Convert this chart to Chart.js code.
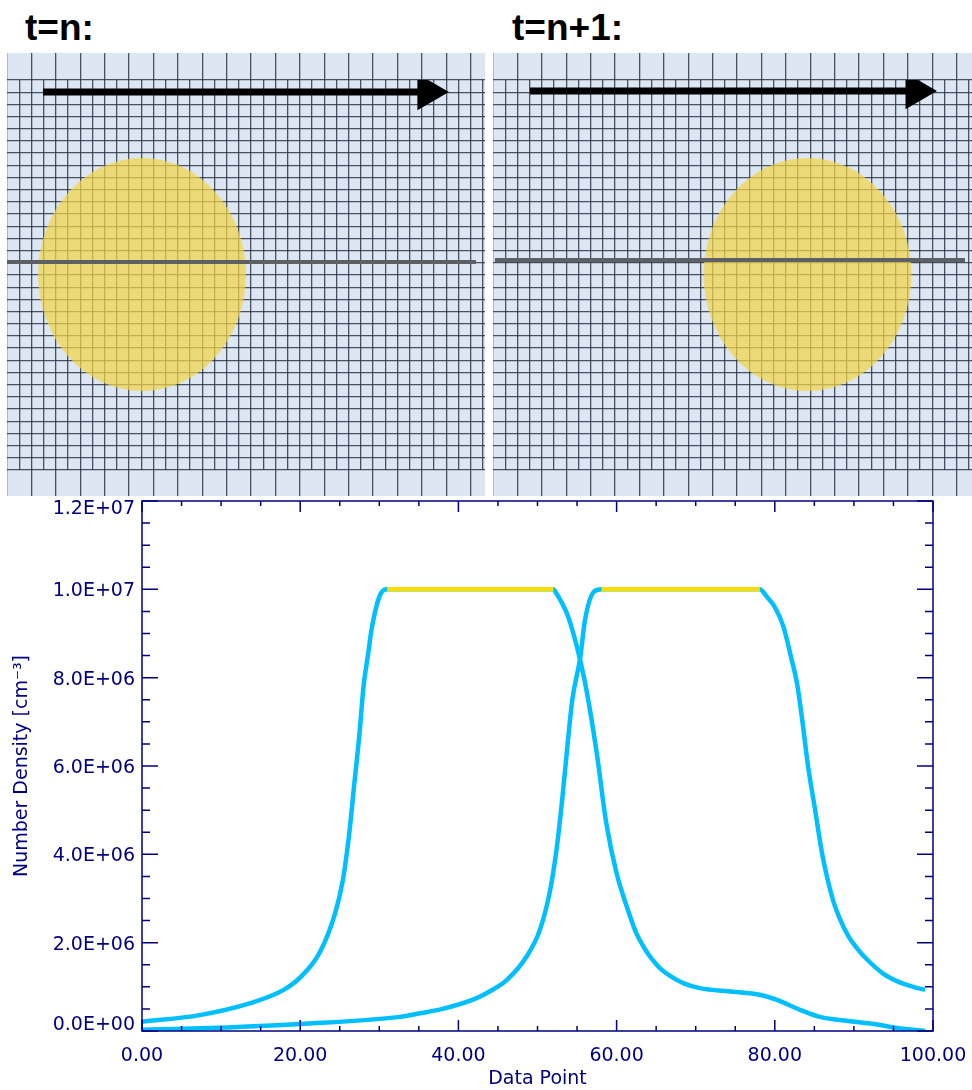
<!DOCTYPE html>
<html>
<head>
<meta charset="utf-8">
<script src="https://cdn.jsdelivr.net/npm/chart.js@4.4.1/dist/chart.umd.min.js"></script>
<style>
    body { margin: 0; background: #fff; width: 972px; height: 1090px; position: relative; overflow: hidden; }
    canvas { position: absolute; }
    .rotulo { position: absolute; top: 9px; font: bold 37px 'Liberation Sans', Arial, sans-serif; line-height: 37px; color: #000; }
    .painel { background: #dce7f3; }
</style>
</head>
<body>
<div class="rotulo" id="rotulo-0" style="left:25px"></div>
<div class="rotulo" id="rotulo-1" style="left:512px"></div>
<canvas id="painel-0" class="painel" width="478" height="443" style="left:7px;top:53px"></canvas>
<canvas id="painel-1" class="painel" width="479" height="443" style="left:493px;top:53px"></canvas>
<canvas id="grafico-densidade" width="972" height="604" style="left:0;top:486px"></canvas>

<script>
// --- dados dos paineis (unidades = celulas da grade) ---
const titulosPaineis = ['t=n:', 't=n+1:'];
const manchaX = [11.07, 25.78];      // centro da nuvem amarela
const manchaY = [16.04, 16.04];
const manchaRx = [8.52, 8.52];
const manchaRy = [9.56, 9.56];
const corteY = [17.07, 17.23];       // linha cinza de corte
const corteX0 = [0, 0.16];
const corteX1 = [38.44, 38.69];
const setaY = [31.02, 31.1];
const setaX0 = [2.95, 3.03];
const setaX1 = [34.5, 34.67];        // centro da ponta da seta

// --- dados do grafico (x = ponto, y em unidades de 1E6 cm^-3) ---
const curvaAX = [0, 7.3, 13.7, 17.9, 20.1, 22.5, 24.4, 25.4, 26.2, 26.8, 27.5, 28.0, 28.6, 29.0, 30.0, 30.9,
    52.0, 52.2, 53.9, 55.0, 55.4, 56.2, 57.5, 58.7, 60.0, 61.3, 62.5, 63.5, 64.5, 65.5, 67.0, 68.5, 70.5, 74.7, 78.1,
    80.2, 83.2, 85.7, 89.5, 92.5, 95.5, 99];
const curvaAY = [0.21, 0.36, 0.63, 0.93, 1.23, 1.79, 2.66, 3.42, 4.47, 5.53, 6.74, 7.79, 8.55, 9.07, 9.83, 10.0,
    10.0, 9.96, 9.37, 8.69, 8.39, 7.71, 6.28, 4.70, 3.57, 2.81, 2.21, 1.88, 1.62, 1.42, 1.22, 1.08, 0.97, 0.89, 0.82,
    0.71, 0.48, 0.32, 0.22, 0.16, 0.07, 0.0];
const curvaBX = [0, 7.3, 20.0, 32.6, 35.1, 38.0, 42.0, 44.0, 46.1, 48.6, 50.3, 51.6, 52.4, 53.1, 53.7, 54.4, 55.4, 56.0,
    57.1, 58.1, 78.1, 79.0, 80.0, 81.1, 82.1, 82.8, 83.5, 84.2, 85.1, 86.0, 87.3, 88.2, 89.3, 90.5, 91.6, 93.7, 95.8,
    97.5, 99];
const curvaBY = [0.03, 0.06, 0.16, 0.32, 0.40, 0.50, 0.72, 0.90, 1.15, 1.68, 2.29, 3.19, 4.10, 5.20, 6.30, 7.50, 8.45, 9.30,
    9.94, 10.0, 10.0, 9.83, 9.60, 9.15, 8.43, 7.88, 7.00, 6.00, 5.00, 4.00, 3.00, 2.55, 2.15, 1.85, 1.63, 1.30, 1.10,
    1.00, 0.93];
const platoAX = [31.0, 52.0];
const platoBX = [58.1, 78.1];
const nivelPlato = 10.0;

const marinho = '#000080';
const ciano = '#00bfff';
const amarelo = '#ffdd00';
const corGrade = 'rgba(45,55,70,0.85)';

Chart.defaults.font.family = "'DejaVu Sans', sans-serif";

// nuvem amarela desenhada pelas escalas do proprio grafico
const pluginMancha = {
    id: 'mancha',
    beforeDatasetsDraw(chart, args, opts) {
        const { ctx, scales: { x, y } } = chart;
        const cx = x.getPixelForValue(opts.cx), cy = y.getPixelForValue(opts.cy);
        const rx = Math.abs(x.getPixelForValue(opts.cx + opts.rx) - cx);
        const ry = Math.abs(y.getPixelForValue(opts.cy + opts.ry) - cy);
        ctx.save();
        ctx.fillStyle = 'rgba(243, 214, 72, 0.72)';
        ctx.beginPath();
        ctx.ellipse(cx, cy, rx, ry, 0, 0, Math.PI * 2);
        ctx.fill();
        ctx.restore();
    }
};

function renderizarPainel(i) {
    const canvas = document.getElementById('painel-' + i);
    document.getElementById('rotulo-' + i).textContent = titulosPaineis[i];
    const xMax = canvas.width / 12.2;
    const marcaPar = c => (c.tick && Math.round(c.tick.value) % 2 === 0) ? corGrade : 'rgba(0,0,0,0)';
    const eixoX = (posicao, comprimento, naArea) => ({
        type: 'linear', position: posicao, min: 0, max: xMax,
        ticks: { display: false, stepSize: 1, includeBounds: false },
        grid: { drawOnChartArea: naArea, color: corGrade, lineWidth: 1.3, tickLength: comprimento, tickColor: marcaPar },
        border: { display: false },
        afterFit: s => { s.paddingLeft = 0; s.paddingRight = 0; }
    });

    new Chart(canvas, {
        type: 'scatter',
        data: {
            datasets: [
                { data: [{ x: corteX0[i], y: corteY[i] }, { x: corteX1[i], y: corteY[i] }], showLine: true,
                  borderColor: '#5d6166', borderWidth: 4, pointRadius: 0, order: 3 },
                { data: [{ x: setaX0[i], y: setaY[i] }, { x: setaX1[i], y: setaY[i] }], showLine: true,
                  borderColor: '#000', borderWidth: 7, pointRadius: 0, order: 2 },
                { data: [{ x: setaX1[i], y: setaY[i] }], pointStyle: 'triangle', rotation: 90, pointRadius: 21,
                  backgroundColor: '#000', borderWidth: 0, order: 1 }
            ]
        },
        options: {
            responsive: false, animation: false,
            layout: { padding: 0, autoPadding: false },
            plugins: {
                legend: { display: false }, tooltip: { enabled: false },
                mancha: { cx: manchaX[i], cy: manchaY[i], rx: manchaRx[i], ry: manchaRy[i] }
            },
            scales: {
                x: eixoX('bottom', 26, true),
                xTopo: eixoX('top', 27, false),
                y: {
                    min: 0, max: 32,
                    ticks: { display: false, stepSize: 1 },
                    grid: { color: corGrade, lineWidth: 1.3, drawTicks: false },
                    border: { display: false },
                    afterFit: s => { s.width = 0; s.paddingTop = 0; s.paddingBottom = 0; }
                }
            }
        },
        plugins: [pluginMancha]
    });
}

// moldura com marcas de escala voltadas para dentro nos quatro lados
const pluginMoldura = {
    id: 'moldura',
    afterDraw(chart) {
        const { ctx, chartArea: a, scales: { x, y } } = chart;
        ctx.save();
        ctx.strokeStyle = marinho;
        ctx.lineWidth = 1.5;
        ctx.strokeRect(a.left, a.top, a.right - a.left, a.bottom - a.top);
        ctx.beginPath();
        for (let v = 0; v <= 100; v += 5) {
            const px = x.getPixelForValue(v);
            const len = v % 20 === 0 ? 11 : 5;
            ctx.moveTo(px, a.bottom); ctx.lineTo(px, a.bottom - len);
            ctx.moveTo(px, a.top); ctx.lineTo(px, a.top + len);
        }
        for (let k = 0; k <= 24; k++) {
            const py = y.getPixelForValue(k * 5e5);
            const len = k % 4 === 0 ? 16 : 8;
            ctx.moveTo(a.left, py); ctx.lineTo(a.left + len, py);
            ctx.moveTo(a.right, py); ctx.lineTo(a.right - len, py);
        }
        ctx.stroke();
        ctx.restore();
    }
};

function formatarExp(v) {
    const [m, e] = Number(v).toExponential(1).split('e');
    const n = parseInt(e, 10);
    return m + 'E' + (n < 0 ? '-' : '+') + String(Math.abs(n)).padStart(2, '0');
}

function pontos(xs, ys) {
    return xs.map((x, k) => ({ x, y: ys[k] * 1e6 }));
}

function renderizarGrafico() {
    const yMax = 1.2e7;
    const linha = (data, cor, ordem) => ({ data, borderColor: cor, borderWidth: 4.5, pointRadius: 0,
        cubicInterpolationMode: 'monotone', fill: false, order: ordem });
    new Chart(document.getElementById('grafico-densidade'), {
        type: 'line',
        data: {
            datasets: [
                linha(pontos(curvaAX, curvaAY), ciano, 2),
                linha(pontos(curvaBX, curvaBY), ciano, 2),
                linha(pontos(platoAX, platoAX.map(() => nivelPlato)), amarelo, 1),
                linha(pontos(platoBX, platoBX.map(() => nivelPlato)), amarelo, 1)
            ]
        },
        options: {
            responsive: false, animation: false,
            layout: { padding: { top: 15, right: 39, left: 0, bottom: 0 }, autoPadding: false },
            plugins: { legend: { display: false }, tooltip: { enabled: false } },
            scales: {
                x: {
                    type: 'linear', min: 0, max: 100,
                    ticks: { stepSize: 20, color: marinho, font: { size: 19 }, padding: 14, maxRotation: 0,
                             callback: v => v.toFixed(2) },
                    grid: { display: false, drawTicks: false }, border: { display: false },
                    title: { display: true, text: 'Data Point', color: marinho, font: { size: 19 }, padding: 0 },
                    afterFit: s => { s.height = 59; s.paddingLeft = 0; s.paddingRight = 0; }
                },
                y: {
                    min: 0, max: yMax,
                    ticks: {
                        stepSize: 2e6, color: marinho, padding: 7, labelOffset: 2, autoSkip: false,
                        // rotulos das pontas deslocados para dentro, como no original
                        font: c => ({ size: 19, lineHeight: c.tick && c.tick.value === yMax ? 0.63 : (c.tick && c.tick.value === 0 ? 0.79 : 1.2) }),
                        callback: v => v === yMax ? ['', formatarExp(v)] : (v === 0 ? [formatarExp(v), ''] : formatarExp(v))
                    },
                    grid: { display: false, drawTicks: false }, border: { display: false },
                    title: { display: true, text: 'Number Density [cm⁻³]', color: marinho, font: { size: 19 },
                             padding: { top: 10.6, bottom: 0 } },
                    afterFit: s => { s.width = 142; s.paddingTop = 0; s.paddingBottom = 0; }
                }
            }
        },
        plugins: [pluginMoldura]
    });
}

renderizarPainel(0);
renderizarPainel(1);
renderizarGrafico();
</script>
</body>
</html>
